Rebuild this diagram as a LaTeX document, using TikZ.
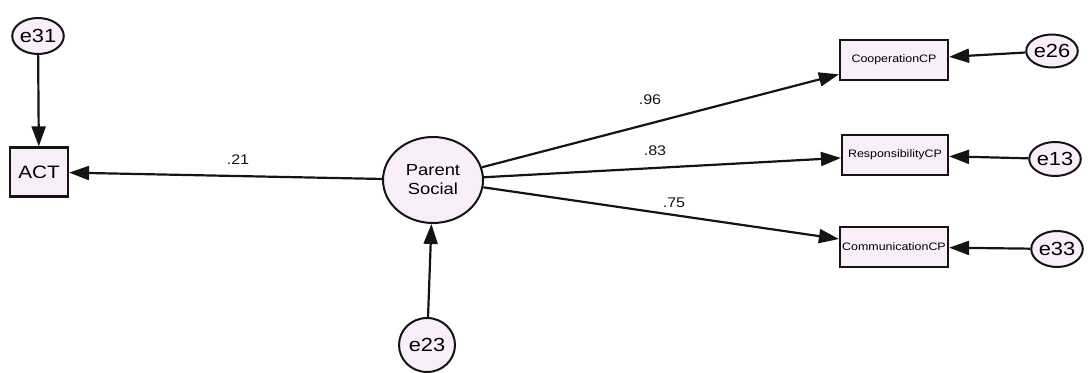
\documentclass[tikz,border=0pt]{standalone}
\usepackage{fontspec}
\setmainfont{Liberation Sans}[FakeStretch=1.15]
\usetikzlibrary{shapes.geometric,arrows.meta}
\definecolor{nodefill}{RGB}{251,238,251}
\definecolor{ink}{RGB}{20,20,20}
\tikzset{
  obs/.style={draw=ink,line width=2.2pt,fill=nodefill,rectangle,inner sep=0pt},
  err/.style={draw=ink,line width=2pt,fill=nodefill,ellipse,inner sep=0pt,font=\fontsize{19}{20}\selectfont},
  lat/.style={draw=ink,line width=2pt,fill=nodefill,ellipse,inner sep=0pt,align=center,font=\fontsize{16}{19}\selectfont},
  path/.style={draw=ink,line width=2.2pt,-{Triangle[length=20pt,width=14pt]}},
  coef/.style={font=\fontsize{14}{15}\selectfont,text=ink},
  small/.style={font=\fontsize{10.8}{13}\selectfont}
}
\begin{document}
\begin{tikzpicture}[x=1pt,y=-1pt]
\useasboundingbox (0,0) rectangle (1091,372);
% observed variables
\node[obs,minimum width=58pt,minimum height=49pt,font=\fontsize{18}{20}\selectfont] (act) at (39,172) {ACT};
\node[obs,small,minimum width=108pt,minimum height=40pt] (coop) at (894,60) {CooperationCP};
\node[obs,small,minimum width=106pt,minimum height=40pt] (resp) at (895,155) {ResponsibilityCP};
\node[obs,small,minimum width=108pt,minimum height=40pt] (comm) at (894,247) {CommunicationCP};
% latent factor
\node[lat,minimum width=100pt,minimum height=86pt] (ps) at (433,180) {Parent\\Social};
% error terms
\node[err,minimum width=46pt,minimum height=36pt] (e31) at (38,36) {e31};
\node[err,minimum width=56pt,minimum height=54pt] (e23) at (427,345) {e23};
\node[err,minimum width=44pt,minimum height=33pt] (e26) at (1052,51) {e26};
\node[err,minimum width=46pt,minimum height=34pt] (e13) at (1055,159) {e13};
\node[err,minimum width=46pt,minimum height=36pt] (e33) at (1057,249) {e33};
% structural and measurement paths
\draw[path] (ps) -- (act);
\draw[path] (ps) -- (coop);
\draw[path] (ps) -- (resp);
\draw[path] (ps) -- (comm);
\draw[path] (e31) -- (act);
\draw[path] (e23) -- (ps);
\draw[path] (e26) -- (coop);
\draw[path] (e13) -- (resp);
\draw[path] (e33) -- (comm);
% standardized coefficients
\node[coef] (c21) at (238,160) {.21};
\node[coef] (c96) at (650,100) {.96};
\node[coef] (c83) at (655,151) {.83};
\node[coef] (c75) at (674,203) {.75};
\end{tikzpicture}
\end{document}
